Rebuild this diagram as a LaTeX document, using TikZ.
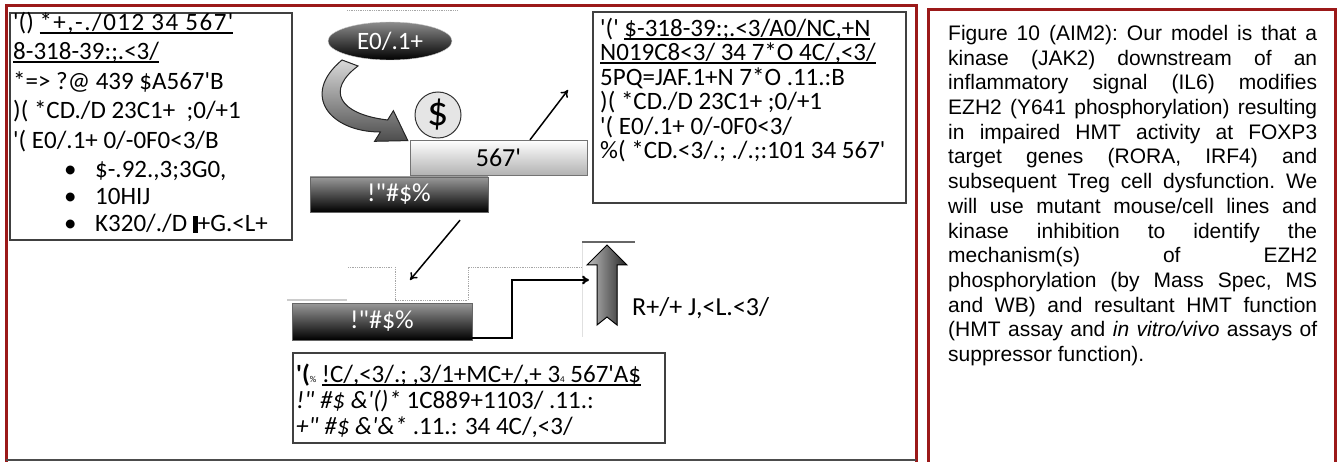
\documentclass[tikz,border=0pt]{standalone}
\usepackage{fontspec}
\newfontfamily\calfont{Carlito}
\newfontfamily\arialfont{Liberation Sans}
\usetikzlibrary{shapes.geometric, positioning, arrows.meta}

\definecolor{framered}{RGB}{155,25,25}

\tikzset{
  textbox/.style={draw=black!75, line width=1.2pt, inner sep=0pt},
  boxtext/.style={anchor=north west, inner sep=0pt, align=left},
  darkbar/.style={draw=black!60, top color=black!40, bottom color=black, text=white,
    minimum width=178, minimum height=35, inner sep=0pt, font=\calfont\fontsize{26}{26}\selectfont},
  lightbar/.style={draw=black!55, top color=white, bottom color=black!30,
    minimum width=177, minimum height=35, inner sep=0pt, font=\calfont\fontsize{26}{26}\selectfont},
  thinarrow/.style={-{To[length=7pt,width=9pt]}, line width=1.5pt},
  ghost/.style={black!35, densely dotted, line width=0.8pt},
}

\newcommand{\bulletline}[1]{\hspace*{51pt}\makebox[31pt][l]{\textbullet}#1}
\newcommand{\ulined}[1]{\sbox0{#1}\rlap{\rule[-3.2pt]{\wd0}{1.7pt}}\usebox0}

\begin{document}
\begin{tikzpicture}[x=1pt, y=-1pt]
  \useasboundingbox (0,0) rectangle (1338,462);

  % frames
  \draw[framered, line width=3pt] (6,462) -- (6,6) -- (916,6) -- (916,462);
  \draw[black!70, line width=2.5pt] (6,460) -- (916,460);
  \draw[framered, line width=3pt] (928,462) -- (928,10) -- (1335,10) -- (1335,462);

  % left box
  \node[textbox, minimum width=282, minimum height=227] (leftbox) at (151,126.5) {};
  \node[boxtext, font=\calfont\fontsize{25}{29.5}\selectfont] (lefttext) at (13,12) {'() \ulined{\addfontfeature{LetterSpace=6}*+,-./012 34 567'}\\
    \ulined{8-318-39:;.<3/}\\
    {*}=> ?@ 439 \$A567'B\\
    )( *CD./D 23C1+ \ ;0/+1\\
    '( E0/.1+ 0/-0F0<3/B\\
    \bulletline{\$-.92.,3;3G0,}\\[-2.5pt]
    \bulletline{10HIJ}\\[-3pt]
    \bulletline{K320/./D \rule[-0.05em]{0.2em}{0.68em}+G.<L+}};

  % right middle box
  \node[textbox, minimum width=313, minimum height=191] (midbox) at (749.5,107.5) {};
  \node[boxtext, font=\calfont\fontsize{25}{24.5}\selectfont] (midtext) at (600,18) {'(' \ulined{\$-318-39:;.<3/A0/NC,+N}\\
    \ulined{N019C8<3/ 34 7*O 4C/,<3/}\\
    5PQ=JAF.1+N 7*O .11.:B\\
    )( *CD./D 23C1+ ;0/+1\\
    '( E0/.1+ 0/-0F0<3/\\
    \%( *CD.<3/.; ./.;:101 34 567'};

  % bottom box
  \node[textbox, minimum width=372, minimum height=90] (botbox) at (479,398) {};
  \node[boxtext, font=\calfont\fontsize{25}{26}\selectfont] (bottext) at (296,364) {\textbf{'(}{\small\%} \ulined{!C/,<3/.; ,3/1+MC+/,+ 3{\small4} 567'A\$}\\
    \textit{!" \#\$ \&'()*} 1C889+1103/ .11.:\\
    \textit{+" \#\$ \&'\&*} .11.: 34 4C/,<3/};

  % ghost outlines
  \draw[ghost] (347,10) -- (457,10);
  \draw[ghost] (348,267) -- (392,267);
  \draw[ghost] (395,267) -- (395,300) -- (468,300) -- (468,267) -- (582,267);
  \draw[black!20, line width=1.5pt] (287,300) -- (347,300);
  \draw[black!12] (582,242) -- (582,337);

  % ellipse and curved arrow
  \node[ellipse, top color=black!45, bottom color=black, draw=black!20, minimum width=124,
    minimum height=38, inner sep=0pt, text=white, font=\calfont\fontsize{25}{25}\selectfont] (ligand) at (390,41) {E0/.1+};
  \fill[top color=black!15, bottom color=black!70, draw=black!85, line width=1pt]
    (342,60) .. controls (300,95) and (330,132) .. (380.4,132)
    -- (374.6,141.3) -- (407.8,140.6) -- (393.4,110.7) -- (387.6,120)
    .. controls (338,114) and (326,90) .. (358,66) -- cycle;

  % bars
  \node[circle, draw=black!80, fill=black!10, line width=1pt, minimum size=46, inner sep=0pt,
    font=\calfont\fontsize{42}{42}\selectfont] (phos) at (438,115) {\$};
  \node[lightbar] (topbar) at (498.5,157.5) {567'};
  \node[darkbar] (upperbar) at (399,194.5) {!"\#\$\%};
  \node[darkbar, minimum width=180, minimum height=37] (lowerbar) at (382,321.5) {!"\#\$\%};

  % connectors
  \coordinate (upright) at (568,90);
  \coordinate (downleft) at (410,280);
  \draw[thinarrow] ([xshift=31.5pt]topbar.north) -- (upright);
  \draw[thinarrow] ([xshift=61pt,yshift=-8pt]upperbar.south) -- (downleft);

  % fat up arrow
  \coordinate (upmid) at (597,280);
  \fill[left color=black!25, right color=black!85, draw=black, line width=1pt]
    (607,245) -- (627,265) -- (617,265) -- (617,325) -- (607,317) -- (597,325)
    -- (597,265) -- (587,265) -- cycle;
  \draw[black!60, line width=1.5pt] (582,242) -- (635,242);
  \draw[line width=2.2pt, -{To[length=7pt,width=9pt]}] ([yshift=2pt]lowerbar.south east)
    -- ++(40,0) |- ([xshift=-8pt]upmid);
  \node[anchor=west, inner sep=0pt, font=\calfont\fontsize{26}{26}\selectfont] (uplabel) at (632,308) {R+/+ J,<L.<3/};

  % caption
  \node[anchor=north west, inner sep=0pt, text width=369pt, align=justify,
    font=\arialfont\fontsize{21}{24.7}\selectfont\frenchspacing] (caption) at (948,25) {Figure 10 (AIM2): Our model is that a\linebreak
    kinase (JAK2) downstream of an\linebreak
    inflammatory signal (IL6) modifies\linebreak
    EZH2 (Y641 phosphorylation) resulting\linebreak
    in impaired HMT activity at FOXP3\linebreak
    target genes (RORA, IRF4) and\linebreak
    subsequent Treg cell dysfunction. We\linebreak
    will use mutant mouse/cell lines and\linebreak
    kinase inhibition to identify the\linebreak
    mechanism(s) of EZH2\linebreak
    phosphorylation (by Mass Spec, MS\linebreak
    and WB) and resultant HMT function\linebreak
    (HMT assay and \textit{in vitro/vivo} assays of\linebreak
    suppressor function).};
\end{tikzpicture}
\end{document}
